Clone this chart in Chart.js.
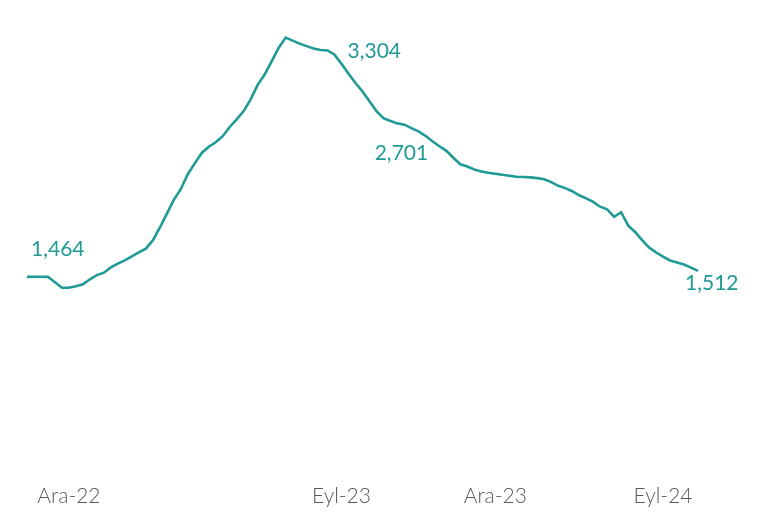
<!DOCTYPE html>
<html>
<head>
<meta charset="utf-8">
<script src="https://cdn.jsdelivr.net/npm/chart.js@4.4.1/dist/chart.umd.min.js"></script>
<style>
  body { margin: 0; background: #fff; }
  #wrap { width: 760px; height: 512px; }
</style>
</head>
<body>
<div id="wrap"><canvas id="chart" width="760" height="512"></canvas></div>
<script>
// Haftalık seri (Ara-22 öncesinden Eyl-24 sonrasına)
const values = [
  1464, 1465, 1465, 1464, 1420, 1376, 1375, 1388, 1404, 1444,
  1478, 1498, 1541, 1572, 1598, 1631, 1663, 1693, 1760, 1863,
  1976, 2090, 2176, 2298, 2386, 2471, 2521, 2558, 2607, 2682,
  2744, 2811, 2906, 3024, 3108, 3215, 3324, 3408, 3384, 3359,
  3339, 3319, 3307, 3304, 3269, 3195, 3114, 3039, 2970, 2891,
  2811, 2754, 2730, 2711, 2701, 2672, 2646, 2610, 2566, 2525,
  2488, 2432, 2379, 2361, 2337, 2320, 2310, 2302, 2293, 2286,
  2278, 2276, 2272, 2266, 2257, 2234, 2204, 2185, 2160, 2127,
  2102, 2073, 2034, 2012, 1952, 1989, 1882, 1829, 1762, 1702,
  1663, 1628, 1597, 1580, 1564, 1539, 1512
];

// eksen etiketleri ve bulundukları hafta
const tickLabels = ['Ara-22', 'Eyl-23', 'Ara-23', 'Eyl-24'];
const tickIndex = [6, 45, 67, 91];

// değer etiketi basılan noktalar
const labelIndex = [0, 43, 54, 96];

const categories = values.map((v, i) => {
  const k = tickIndex.indexOf(i);
  return k >= 0 ? tickLabels[k] : '';
});

const teal = '#1f9a96';

// nokta etiketlerinin yerleşimi (nokta merkezine göre)
const labelPlace = [
  { dx: 4, dy: -28, align: 'left' },
  { dx: 20, dy: 1, align: 'left' },
  { dx: -3, dy: 29, align: 'center' },
  { dx: -13, dy: 12, align: 'left' }
];

const valueLabels = {
  id: 'valueLabels',
  afterDatasetsDraw(chart) {
    const ctx = chart.ctx;
    const meta = chart.getDatasetMeta(0);
    ctx.save();
    ctx.font = '21px Lato';
    ctx.fillStyle = teal;
    ctx.textBaseline = 'middle';
    labelIndex.forEach((idx, k) => {
      const pt = meta.data[idx];
      const p = labelPlace[k];
      ctx.textAlign = p.align;
      ctx.fillText(values[idx].toLocaleString('en-US'), pt.x + p.dx, pt.y + p.dy);
    });
    ctx.restore();
  }
};

new Chart(document.getElementById('chart'), {
  type: 'line',
  data: {
    labels: categories,
    datasets: [{
      data: values,
      borderColor: teal,
      borderWidth: 2.6,
      pointRadius: 0,
      tension: 0,
      fill: false
    }]
  },
  options: {
    responsive: false,
    animation: false,
    layout: { padding: { left: 26, right: 62, top: 14, bottom: 3 } },
    plugins: {
      legend: { display: false },
      tooltip: { enabled: false }
    },
    scales: {
      x: {
        grid: { display: false, drawTicks: false },
        border: { display: false },
        afterFit: (scale) => { scale.height = 52; },
        ticks: {
          autoSkip: false,
          maxRotation: 0,
          padding: 27,
          color: '#595959',
          font: { family: 'Lato', size: 21, weight: '300' }
        }
      },
      y: {
        display: false,
        min: 0,
        max: 3600
      }
    }
  },
  plugins: [valueLabels]
});
</script>
</body>
</html>
